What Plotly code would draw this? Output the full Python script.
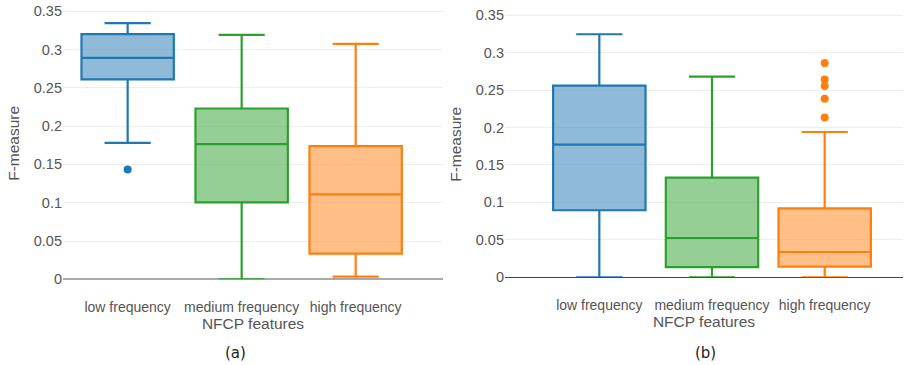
import plotly.graph_objects as go

categories = ["low frequency", "medium frequency", "high frequency"]
colors = ["#1f77b4", "#2ca02c", "#ff7f0e"]

# Panel (a)
a_lower = [0.178, 0.0, 0.0035]
a_q1 = [0.261, 0.1005, 0.0335]
a_median = [0.289, 0.1765, 0.111]
a_q3 = [0.320, 0.223, 0.174]
a_upper = [0.3345, 0.319, 0.3075]
a_outliers = [[0.1435], [], []]

# Panel (b)
b_lower = [0.0, 0.0, 0.0]
b_q1 = [0.0895, 0.0135, 0.0142]
b_median = [0.177, 0.0525, 0.0338]
b_q3 = [0.256, 0.133, 0.092]
b_upper = [0.3245, 0.268, 0.194]
b_outliers = [[], [], [0.286, 0.264, 0.2555, 0.2385, 0.2135]]

W, H = 904, 365

fig = go.Figure()

def add_panel(sfx, lower, q1, med, q3, upper, outl, width):
    for i, c in enumerate(categories):
        col = colors[i].lstrip("#")
        r, g, b = int(col[0:2], 16), int(col[2:4], 16), int(col[4:6], 16)
        fig.add_trace(go.Box(
            x=[c], lowerfence=[lower[i]], q1=[q1[i]], median=[med[i]],
            q3=[q3[i]], upperfence=[upper[i]],
            line=dict(color=colors[i], width=2.2),
            fillcolor=f"rgba({r},{g},{b},0.5)",
            width=width, whiskerwidth=0.5,
            xaxis="x" + sfx, yaxis="y" + sfx, showlegend=False,
        ))
        if outl[i]:
            fig.add_trace(go.Scatter(
                x=[c] * len(outl[i]), y=outl[i], mode="markers",
                marker=dict(color=colors[i], size=8),
                xaxis="x" + sfx, yaxis="y" + sfx, showlegend=False,
            ))

add_panel("", a_lower, a_q1, a_median, a_q3, a_upper, a_outliers, 0.81)
add_panel("2", b_lower, b_q1, b_median, b_q3, b_upper, b_outliers, 0.82)

FONT = "Liberation Sans, Arial, sans-serif"
tickfont = dict(family=FONT, size=14.5, color="#555")
xtickfont = dict(family=FONT, size=14, color="#555")
titlefont = dict(family=FONT, size=15.5, color="#555")

yvals = [0, 0.05, 0.1, 0.15, 0.2, 0.25, 0.3, 0.35]
ytext = ["0", "0.05", "0.1", "0.15", "0.2", "0.25", "0.3", "0.35"]

xcommon = dict(categoryorder="array", categoryarray=categories, automargin=False,
               showgrid=False, tickfont=xtickfont, ticks="outside", ticklen=15,
               tickcolor="rgba(0,0,0,0)",
               title=dict(text="NFCP features", font=titlefont, standoff=1))

fig.update_layout(
    width=W, height=H,
    margin=dict(l=0, r=0, t=0, b=0),
    paper_bgcolor="white", plot_bgcolor="white",
    xaxis=dict(domain=[63 / W, 443 / W], range=[-0.567, 2.766], anchor="y", **xcommon),
    yaxis=dict(domain=[(H - 279.3) / H, (H - 7.4) / H], range=[0, 0.355], automargin=False,
               tickvals=yvals, ticktext=ytext,
               gridcolor="#eee", gridwidth=1, zeroline=True,
               zerolinecolor="#aaa", zerolinewidth=2,
               tickfont=tickfont, anchor="x",
               title=dict(text="F-measure", font=titlefont, standoff=10)),
    xaxis2=dict(domain=[505 / W, 903 / W], range=[-0.837, 2.695], anchor="y2", **xcommon),
    yaxis2=dict(domain=[(H - 277.3) / H, (H - 11.4) / H], range=[0, 0.355], automargin=False,
                tickvals=yvals, ticktext=ytext,
                gridcolor="#eee", gridwidth=1, zeroline=True,
                zerolinecolor="#444", zerolinewidth=1,
                tickfont=tickfont, anchor="x2",
                title=dict(text="F-measure", font=titlefont, standoff=10)),
    annotations=[
        dict(text="(a)", x=235 / W, y=(H - 353) / H, xref="paper", yref="paper",
             xanchor="center", yanchor="middle", showarrow=False,
             font=dict(family="DejaVu Sans, Arial", size=15, color="#222")),
        dict(text="(b)", x=705 / W, y=(H - 353) / H, xref="paper", yref="paper",
             xanchor="center", yanchor="middle", showarrow=False,
             font=dict(family="DejaVu Sans, Arial", size=15, color="#222")),
    ],
)

fig.write_html("out.html")
